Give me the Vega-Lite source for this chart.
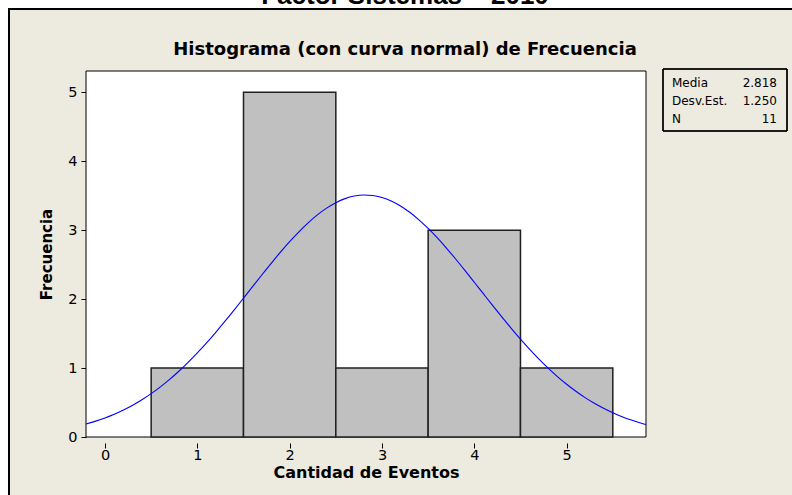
{
  "$schema": "https://vega.github.io/schema/vega-lite/v6.json",
  "background": "white",
  "padding": {"left": 9, "top": 9, "right": -6, "bottom": -6},
  "autosize": {"type": "none"},
  "width": 789,
  "height": 492,
  "config": {
    "view": {"fill": "#EDEAE0", "stroke": "#000000", "strokeWidth": 2},
    "axis": {
      "labelFont": "DejaVu Sans",
      "labelFontSize": 14.5,
      "labelColor": "#000000",
      "titleFont": "DejaVu Sans",
      "titleFontWeight": "bold",
      "titleFontSize": 15,
      "titleColor": "#000000",
      "tickColor": "#000000",
      "tickSize": 5,
      "grid": false,
      "domain": false,
      "zindex": 1
    }
  },
  "title": {
    "text": "Factor Sistemas – 2010",
    "subtitle": "Histograma (con curva normal) de Frecuencia",
    "anchor": "start",
    "offset": -50,
    "dx": 396,
    "align": "center",
    "subtitlePadding": 32,
    "font": "Liberation Sans",
    "fontSize": 26,
    "fontWeight": "bold",
    "color": "#000000",
    "subtitleFont": "DejaVu Sans",
    "subtitleFontSize": 18,
    "subtitleFontWeight": "bold",
    "subtitleColor": "#000000"
  },
  "layer": [
    {
      "layer": [
        {
          "data": {"values": [{"panel": "grafica"}]},
          "mark": {"type": "rect", "fill": "white", "stroke": "#000000", "strokeWidth": 1},
          "encoding": {
            "x": {"datum": -0.2058, "type": "quantitative", "title": "Cantidad de Eventos"},
            "x2": {"datum": 5.8595},
            "y": {"datum": 0, "type": "quantitative", "title": "Frecuencia"},
            "y2": {"datum": 5.309}
          }
        },
        {
          "data": {
            "values": [
              {"inicio": 0.5, "fin": 1.5, "frecuencia": 1},
              {"inicio": 1.5, "fin": 2.5, "frecuencia": 5},
              {"inicio": 2.5, "fin": 3.5, "frecuencia": 1},
              {"inicio": 3.5, "fin": 4.5, "frecuencia": 3},
              {"inicio": 4.5, "fin": 5.5, "frecuencia": 1}
            ]
          },
          "mark": {"type": "rect", "fill": "#C0C0C0", "stroke": "#202020", "strokeWidth": 1.5},
          "encoding": {
            "x": {
              "field": "inicio",
              "type": "quantitative",
              "title": "Cantidad de Eventos",
              "scale": {"domain": [-0.2058, 5.8595], "range": [77, 637], "zero": false, "nice": false},
              "axis": {"values": [0, 1, 2, 3, 4, 5], "offset": -58, "labelPadding": 0, "titlePadding": 3, "titleFontSize": 16, "format": "d"}
            },
            "x2": {"field": "fin"},
            "y": {
              "field": "frecuencia",
              "type": "quantitative",
              "title": "Frecuencia",
              "scale": {"domain": [0, 5.309], "range": [428, 62], "zero": false, "nice": false},
              "axis": {"values": [0, 1, 2, 3, 4, 5], "offset": -77, "labelPadding": 4, "titlePadding": 13, "format": "d"}
            },
            "y2": {"datum": 0}
          }
        },
        {
          "data": {
            "values": [
              {"x": -0.2058, "ajuste": 0.1882},
              {"x": -0.1, "ajuste": 0.2302},
              {"x": 0.0, "ajuste": 0.2765},
              {"x": 0.1, "ajuste": 0.3301},
              {"x": 0.2, "ajuste": 0.3916},
              {"x": 0.3, "ajuste": 0.4616},
              {"x": 0.4, "ajuste": 0.5406},
              {"x": 0.5, "ajuste": 0.629},
              {"x": 0.6, "ajuste": 0.7273},
              {"x": 0.7, "ajuste": 0.8355},
              {"x": 0.8, "ajuste": 0.9538},
              {"x": 0.9, "ajuste": 1.0818},
              {"x": 1.0, "ajuste": 1.2192},
              {"x": 1.1, "ajuste": 1.3652},
              {"x": 1.2, "ajuste": 1.519},
              {"x": 1.3, "ajuste": 1.6794},
              {"x": 1.4, "ajuste": 1.8448},
              {"x": 1.5, "ajuste": 2.0136},
              {"x": 1.6, "ajuste": 2.1838},
              {"x": 1.7, "ajuste": 2.3533},
              {"x": 1.8, "ajuste": 2.5198},
              {"x": 1.9, "ajuste": 2.6809},
              {"x": 2.0, "ajuste": 2.834},
              {"x": 2.1, "ajuste": 2.9768},
              {"x": 2.2, "ajuste": 3.1068},
              {"x": 2.3, "ajuste": 3.2218},
              {"x": 2.4, "ajuste": 3.3198},
              {"x": 2.5, "ajuste": 3.3989},
              {"x": 2.6, "ajuste": 3.4577},
              {"x": 2.7, "ajuste": 3.4951},
              {"x": 2.8, "ajuste": 3.5103},
              {"x": 2.9, "ajuste": 3.5032},
              {"x": 3.0, "ajuste": 3.4737},
              {"x": 3.1, "ajuste": 3.4225},
              {"x": 3.2, "ajuste": 3.3505},
              {"x": 3.3, "ajuste": 3.2592},
              {"x": 3.4, "ajuste": 3.1501},
              {"x": 3.5, "ajuste": 3.0252},
              {"x": 3.6, "ajuste": 2.8868},
              {"x": 3.7, "ajuste": 2.7371},
              {"x": 3.8, "ajuste": 2.5786},
              {"x": 3.9, "ajuste": 2.4137},
              {"x": 4.0, "ajuste": 2.245},
              {"x": 4.1, "ajuste": 2.0748},
              {"x": 4.2, "ajuste": 1.9053},
              {"x": 4.3, "ajuste": 1.7385},
              {"x": 4.4, "ajuste": 1.5761},
              {"x": 4.5, "ajuste": 1.4198},
              {"x": 4.6, "ajuste": 1.2708},
              {"x": 4.7, "ajuste": 1.1302},
              {"x": 4.8, "ajuste": 0.9988},
              {"x": 4.9, "ajuste": 0.877},
              {"x": 5.0, "ajuste": 0.7651},
              {"x": 5.1, "ajuste": 0.6632},
              {"x": 5.2, "ajuste": 0.5713},
              {"x": 5.3, "ajuste": 0.489},
              {"x": 5.4, "ajuste": 0.4158},
              {"x": 5.5, "ajuste": 0.3513},
              {"x": 5.6, "ajuste": 0.295},
              {"x": 5.7, "ajuste": 0.2461},
              {"x": 5.8, "ajuste": 0.204},
              {"x": 5.8595, "ajuste": 0.1819}
            ]
          },
          "mark": {"type": "line", "color": "#0000FF", "strokeWidth": 1.1, "interpolate": "monotone"},
          "encoding": {
            "x": {"field": "x", "type": "quantitative", "title": "Cantidad de Eventos"},
            "y": {"field": "ajuste", "type": "quantitative", "title": "Frecuencia"}
          }
        }
      ]
    },
    {
      "data": {
        "values": [
          {"estadistico": "Media", "valor": "2.818"},
          {"estadistico": "Desv.Est.", "valor": "1.250"},
          {"estadistico": "N", "valor": "11"}
        ]
      },
      "layer": [
        {
          "mark": {"type": "rect", "fill": null, "fillOpacity": 0, "stroke": "#000000", "strokeWidth": 1, "xOffset": -9, "x2Offset": 10, "yOffset": -18, "y2Offset": 8},
          "encoding": {
            "x": {
              "datum": "etiqueta",
              "type": "nominal",
              "scale": {"type": "point", "domain": ["etiqueta", "valor"], "range": [663, 768], "padding": 0},
              "axis": null
            },
            "x2": {"datum": "valor"},
            "y": {
              "datum": "Media",
              "type": "nominal",
              "scale": {"type": "point", "domain": ["Media", "Desv.Est.", "N"], "range": [78, 114], "padding": 0},
              "axis": null
            },
            "y2": {"datum": "N"}
          }
        },
        {
          "mark": {"type": "text", "align": "left", "baseline": "alphabetic", "font": "DejaVu Sans", "fontSize": 12, "color": "#000000"},
          "encoding": {
            "x": {"datum": "etiqueta", "type": "nominal", "axis": null},
            "y": {"field": "estadistico", "type": "nominal", "axis": null},
            "text": {"field": "estadistico"}
          }
        },
        {
          "mark": {"type": "text", "align": "right", "baseline": "alphabetic", "font": "DejaVu Sans", "fontSize": 12, "color": "#000000"},
          "encoding": {
            "x": {"datum": "valor", "type": "nominal", "axis": null},
            "y": {"field": "estadistico", "type": "nominal", "axis": null},
            "text": {"field": "valor"}
          }
        }
      ]
    }
  ],
  "resolve": {"scale": {"x": "independent", "y": "independent"}}
}
